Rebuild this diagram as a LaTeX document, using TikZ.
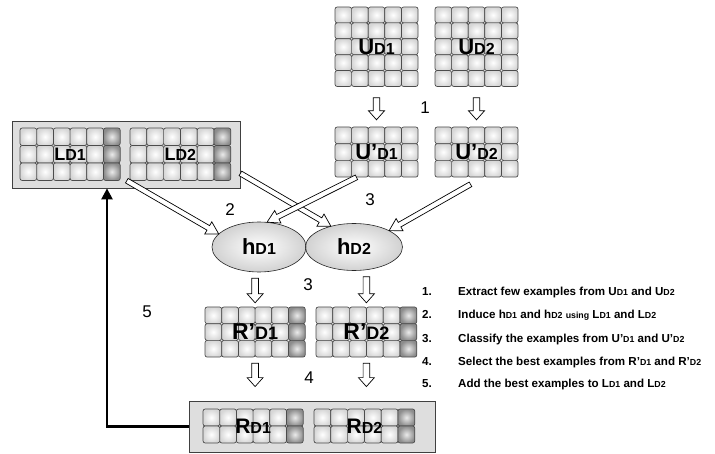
\documentclass[tikz,border=0pt]{standalone}
\usepackage{fontspec}
\setmainfont{Liberation Sans}
\usetikzlibrary{calc,shapes.geometric,arrows.meta}

\newcommand\lab[4]{{\fontsize{#1}{#1}\selectfont\bfseries #2}{\fontsize{#3}{#3}\selectfont\bfseries #4}}
\newcommand\sm[1]{{\fontsize{8.8}{8.8}\selectfont #1}}

\tikzset{
  cellL/.style={draw=black!70, line width=0.7pt, rounded corners=2.2pt, inner color=white, outer color=black!16},
  cellD/.style={draw=black!70, line width=0.7pt, rounded corners=2.2pt, inner color=black!8, outer color=black!45},
  gridlab/.style={inner sep=0pt, draw=none},
  boxst/.style={draw=black!75, line width=0.8pt, fill=black!13, inner sep=0pt},
  hyp/.style={ellipse, inner sep=0pt, inner color=white, outer color=black!18},
  harr/.style={draw=black, line width=0.7pt, fill=white, line join=miter},
  num/.style={font=\fontsize{17}{17}\selectfont, inner sep=0pt},
  leg/.style={font=\fontsize{11.6}{13}\selectfont\bfseries, inner sep=0pt, anchor=base west},
  back/.style={line width=2.4pt, -{Triangle[length=11pt,width=11pt]}}
}

% name, x0, y0, cols, rows, cw, ch, darkflag, label
\newcommand\cellgrid[9]{%
  \foreach \i in {1,...,#4}{%
    \foreach \j in {1,...,#5}{%
      \ifnum\numexpr#8*\i\relax=#4
        \path[cellD] ({#2+(\i-1)*#6},{#3+(\j-1)*#7}) rectangle ++(#6,#7);
      \else
        \path[cellL] ({#2+(\i-1)*#6},{#3+(\j-1)*#7}) rectangle ++(#6,#7);
      \fi
    }%
  }%
  \node[gridlab, minimum width={#4*#6*1pt}, minimum height={#5*#7*1pt}] (#1) at ({#2+#4*#6/2},{#3+#5*#7/2}) {#9};
}

% hollow arrow: start, end, half shaft, half head, head length
\newcommand\harrow[5]{%
  \coordinate (hA) at (#1);
  \coordinate (hB) at (#2);
  \coordinate (hC) at ($(hB)!#5!(hA)$);
  \draw[harr] ($(hA)!#3!90:(hB)$) -- ($(hC)!#3!-90:(hA)$) -- ($(hC)!#4!-90:(hA)$) -- (hB)
     -- ($(hC)!#4!90:(hA)$) -- ($(hC)!#3!90:(hA)$) -- ($(hA)!#3!-90:(hB)$) -- cycle;
}

\begin{document}
\begin{tikzpicture}[x=1pt, y=-1pt]
\useasboundingbox (0,0) rectangle (715,454);

% boxes
\node[boxst, minimum width=228pt, minimum height=67pt] (Lbox) at (126,154.5) {};
\node[boxst, minimum width=246pt, minimum height=51pt] (Rbox) at (312,426.5) {};

% grids
\cellgrid{UD1}{335}{7}{5}{5}{16.6}{15.9}{0}{\lab{22}{U}{16}{D1}}
\cellgrid{UD2}{435}{7}{5}{5}{16.6}{15.9}{0}{\lab{22}{U}{16}{D2}}
\cellgrid{UpD1}{335}{127}{5}{3}{16.6}{16.7}{0}{\lab{22}{U'}{16}{D1}}
\cellgrid{UpD2}{435}{127}{5}{3}{16.6}{16.7}{0}{\lab{22}{U'}{16}{D2}}
\cellgrid{LD1}{20}{128}{6}{3}{16.7}{17.5}{1}{\lab{18}{L}{16}{D1}}
\cellgrid{LD2}{130}{128}{6}{3}{16.8}{17.5}{1}{\lab{18}{L}{16}{D2}}
\cellgrid{RpD1}{205}{307}{6}{3}{16.7}{16.7}{1}{\lab{23}{R'}{18}{D1}}
\cellgrid{RpD2}{316}{307}{6}{3}{16.8}{16.7}{1}{\lab{23}{R'}{18}{D2}}
\cellgrid{RD1}{203}{409}{6}{2}{16.7}{17}{1}{\lab{21}{R}{16}{D1}}
\cellgrid{RD2}{314}{409}{6}{2}{16.8}{17}{1}{\lab{21}{R}{16}{D2}}

% hypotheses
\node[hyp, minimum width=94pt, minimum height=50pt] (hD1) at (259,247) {};
\node[hyp, minimum width=97pt, minimum height=47pt] (hD2) at (354,247) {};
\draw[line width=0.6pt, draw=black!85] (hD1.center) ellipse [x radius=47pt, y radius=25pt];
\draw[line width=0.6pt, draw=black!85] (hD2.center) ellipse [x radius=48.5pt, y radius=23.5pt];
\node at (hD1.center) {\lab{22}{h}{16}{D1}};
\node at (hD2.center) {\lab{22}{h}{16}{D2}};

% vertical hollow arrows
\harrow{[yshift=-11pt]UD1.south}{[yshift=7pt]UpD1.north}{3.3pt}{8pt}{9pt}
\harrow{[yshift=-11pt]UD2.south}{[yshift=7pt]UpD2.north}{3.3pt}{8pt}{9pt}
\harrow{[yshift=-6pt]RpD1.north |- hD1.south}{[yshift=4pt]RpD1.north}{3.3pt}{8pt}{9pt}
\harrow{[yshift=-6pt]RpD2.north |- hD2.south}{[yshift=4pt]RpD2.north}{3.3pt}{8pt}{9pt}
\harrow{[yshift=-6pt]RpD1.south}{[yshift=14pt]Rbox.north -| RpD1.south}{3.3pt}{8pt}{9pt}
\harrow{[yshift=-6pt]RpD2.south}{[yshift=14pt]Rbox.north -| RpD2.south}{3.3pt}{8pt}{9pt}

% diagonal hollow arrows
\harrow{[xshift=-3pt]LD2.south west}{hD1.162}{2.6pt}{7pt}{12pt}
\harrow{[yshift=15pt]Lbox.south east}{hD2.138}{2.6pt}{7pt}{12pt}
\harrow{[xshift=-20pt]UpD1.south}{hD1.72}{2.6pt}{7pt}{12pt}
\harrow{[xshift=-6pt,yshift=-7pt]UpD2.south}{hD2.25}{2.6pt}{7pt}{12pt}

% feedback arrow
\draw[back] (Rbox.west) -| ([xshift=-19pt]Lbox.south);

% step numbers
\node[num] (s1) at (425,108) {1};
\node[num] (s2) at (230,210) {2};
\node[num] (s3a) at (370,200) {3};
\node[num] (s3b) at (308,285) {3};
\node[num] (s4) at (309,378) {4};
\node[num] (s5) at (147,312) {5};

% legend
\node[leg] (n1) at (422,296) {1.};
\node[leg] (n2) at (422,319) {2.};
\node[leg] (n3) at (422,342) {3.};
\node[leg] (n4) at (422,365) {4.};
\node[leg] (n5) at (422,388) {5.};
\node[leg] (t1) at (458,296) {Extract few examples from U\sm{D1} and U\sm{D2}};
\node[leg] (t2) at (458,319) {Induce h\sm{D1} and h\sm{D2} \sm{using} L\sm{D1} and L\sm{D2}};
\node[leg] (t3) at (458,342) {Classify the examples from U'\sm{D1} and U'\sm{D2}};
\node[leg] (t4) at (458,365) {Select the best examples from R'\sm{D1} and R'\sm{D2}};
\node[leg] (t5) at (458,388) {Add the best examples to L\sm{D1} and L\sm{D2}};
\end{tikzpicture}
\end{document}
